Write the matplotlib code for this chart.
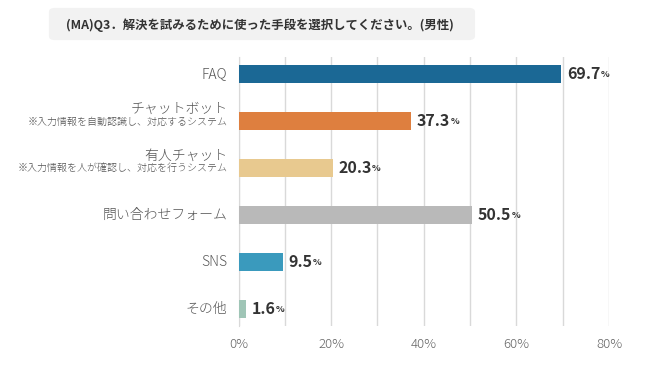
import matplotlib.pyplot as plt
from matplotlib.patches import FancyBboxPatch

plt.rcParams['font.family'] = ['Noto Sans CJK JP', 'DejaVu Sans']

# data
categories = ['FAQ', 'チャットボット', '有人チャット', '問い合わせフォーム', 'SNS', 'その他']
notes = ['', '※入力情報を自動認識し、対応するシステム', '※入力情報を人が確認し、対応を行うシステム', '', '', '']
values = [69.7, 37.3, 20.3, 50.5, 9.5, 1.6]
colors = ['#1b6895', '#de7f3f', '#e8c98f', '#b9b9b9', '#3a9abd', '#9fc5b6']
xticks = [0, 20, 40, 60, 80]
title = '(MA)Q3．解決を試みるために使った手段を選択してください。(男性)'

fig = plt.figure(figsize=(6.7, 3.75), dpi=100)
ax = fig.add_axes([0.356, 0.131, 0.553, 0.717])

# title box
box = FancyBboxPatch((0.073, 0.893), 0.636, 0.086, boxstyle='round,pad=0,rounding_size=0.01',
                     transform=fig.transFigure, fc='#f2f2f2', ec='none')
fig.patches.append(box)
fig.text(0.388, 0.934, title, ha='center', va='center', fontsize=8.9,
         fontweight='bold', color='#333333')

y = list(range(len(categories)))
ax.barh(y, values, height=0.38, color=colors, zorder=3)

ax.set_xlim(0, 80)
ax.set_ylim(5.36, -0.36)
ax.set_xticks(xticks)
ax.set_xticks(range(10, 80, 20), minor=True)
ax.xaxis.grid(True, which='both', color='#d9d9d9', lw=1, zorder=0)
ax.set_xticklabels([f'{t}%' for t in xticks], color='#666666', fontsize=9.5,
                   fontweight='light')
ax.tick_params(axis='x', which='both', length=0, pad=9)
ax.set_yticks([])
for s in ['top', 'right', 'bottom']:
    ax.spines[s].set_visible(False)
ax.spines['left'].set_color('#d9d9d9')

# category labels
for i, (cat, note) in enumerate(zip(categories, notes)):
    if note:
        ax.text(-2.4, i - 0.25, cat, ha='right', va='center', fontsize=10,
                fontweight='light', color='#555555')
        ax.text(-2.4, i + 0.03, note, ha='right', va='center', fontsize=7.2,
                fontweight='light', color='#555555')
    else:
        ax.text(-2.4, i, cat, ha='right', va='center', fontsize=10,
                fontweight='light', color='#555555')

# value labels
for i, v in enumerate(values):
    t = ax.text(v + 1.2, i, f'{v:.1f}', ha='left', va='center', fontsize=11.5,
                fontweight='bold', color='#333333')
    ax.annotate('%', xy=(1, 0.2), xycoords=t, xytext=(0.3, 0), textcoords='offset points',
                ha='left', va='bottom', fontsize=6.5, fontweight='bold', color='#333333')

fig.savefig('out.png', dpi=100)
